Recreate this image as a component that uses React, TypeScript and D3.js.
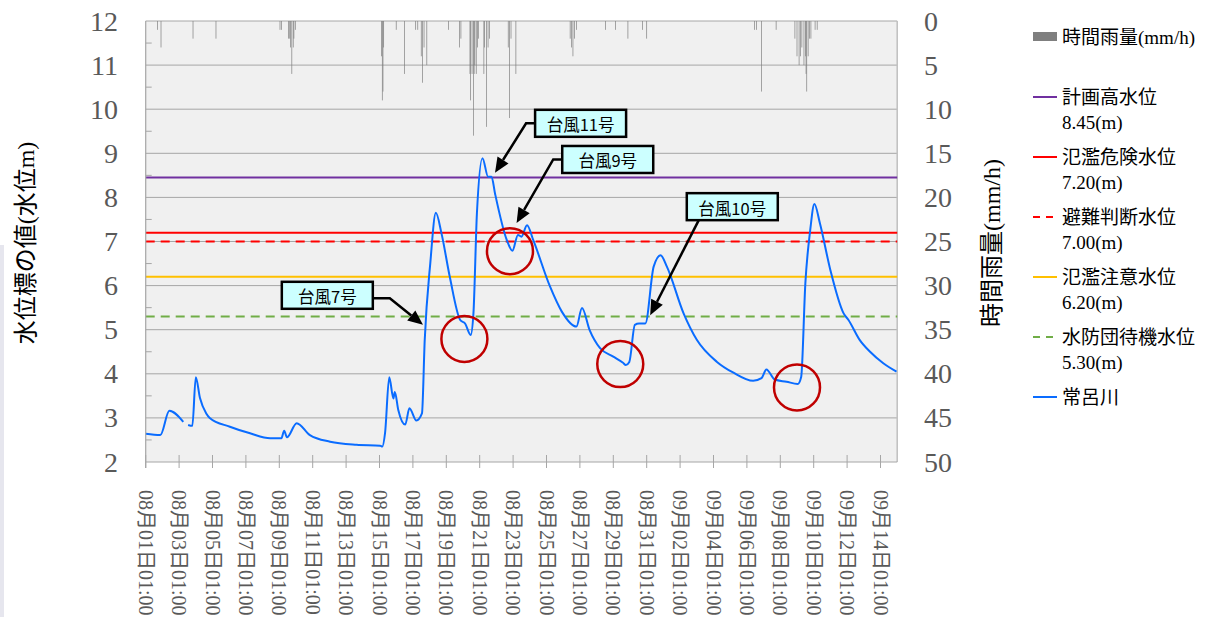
import * as d3 from "d3";

// hourly series start at 2016-08-01 01:00
const startDate = new Date(2016, 7, 1, 1);
const totalHours = 45 * 24;

// hourly rainfall (hour offset, mm/h) - only hours with rain
const rainHours = [
  17, 22, 68, 101, 193, 195, 205, 207, 208, 210, 212, 213, 215, 339, 340, 341,
  342, 360, 372, 388, 391, 396, 398, 400, 404, 435, 451, 453, 466, 467, 469, 471,
  472, 473, 475, 477, 478, 486, 487, 490, 492, 494, 521, 523, 525, 532, 610, 612,
  614, 616, 619, 661, 675, 693, 714, 720, 875, 878, 885, 906, 933, 936, 939, 941,
  943, 946, 948, 949, 950, 952, 954, 956, 962, 965,
];
const rainMm = [
  1, 3, 2, 2, 1, 1, 2, 2, 3, 6, 3, 2, 1, 4, 9, 8,
  3, 1, 6, 1, 1, 4, 7, 3, 5, 1, 3, 2, 6, 9, 6, 13,
  6, 5, 6, 3, 2, 6, 3, 12, 3, 2, 3, 11, 2, 6, 2, 3,
  4, 2, 1, 1, 1, 2, 1, 2, 1, 1, 8, 1, 2, 4, 5, 4,
  3, 5, 4, 6, 8, 4, 2, 2, 1, 1,
];

// 常呂川 water level (hour offset, m); null = missing
const levelSeries: [number, number | null][] = [
  [0, 2.64], [21, 2.61], [34, 3.16], [54, 2.91], [57, null], [61, 2.84],
  [67, 2.82], [72, 3.92], [78, 3.45], [87, 3.1], [92, 3.0], [121, 2.8],
  [150, 2.65], [179, 2.54], [195, 2.54], [199, 2.71], [203, 2.56], [217, 2.88],
  [236, 2.61], [265, 2.46], [303, 2.39], [337, 2.37], [340, 2.35], [344, 2.66],
  [350, 3.92], [356, 3.44], [358, 3.59], [363, 3.18], [373, 2.85], [379, 3.22],
  [389, 2.94], [397, 3.1], [401, 4.77], [409, 6.51], [417, 7.65], [425, 7.19],
  [437, 6.2], [452, 5.22], [459, 5.14], [467, 4.88], [471, 5.37], [476, 7.64],
  [484, 8.89], [492, 8.47], [497, 8.47], [502, 8.09], [519, 7.03], [527, 6.79],
  [535, 7.15], [540, 7.11], [548, 7.37], [557, 7.03], [581, 5.98], [598, 5.41],
  [619, 5.07], [627, 5.49], [638, 4.99], [653, 4.58], [672, 4.39], [686, 4.25],
  [690, 4.2], [695, 4.27], [703, 5.11], [709, 5.14], [718, 5.14], [730, 6.43],
  [740, 6.69], [749, 6.43], [773, 5.37], [792, 4.77], [821, 4.27], [844, 4.03],
  [873, 3.84], [885, 3.9], [892, 4.1], [904, 3.87], [921, 3.82], [937, 3.77],
  [942, 3.93], [948, 6.05], [955, 7.26], [961, 7.85], [969, 7.41], [984, 6.35],
  [1003, 5.37], [1010, 5.22], [1026, 4.77], [1041, 4.5], [1060, 4.24], [1079, 4.05],
];

const thresholdNames = ["計画高水位", "氾濫危険水位", "避難判断水位", "氾濫注意水位", "水防団待機水位"];
const thresholdValues = [8.45, 7.2, 7.0, 6.2, 5.3];
const thresholdColors = ["#7030A0", "#FF0000", "#FF0000", "#FFC000", "#70AD47"];
const thresholdDashed = [false, false, true, false, true];

const riverName = "常呂川";
const rainName = "時間雨量(mm/h)";

// typhoon callouts: box anchor and arrow tip in (hour, level)
const typhoonLabels = ["台風7号", "台風11号", "台風9号", "台風10号"];
const typhoonBoxHour = [261, 625, 664, 843];
const typhoonBoxLevel = [5.78, 9.68, 8.86, 7.79];
const typhoonTipHour = [398.5, 502, 533, 725];
const typhoonTipLevel = [5.11, 8.56, 7.42, 5.33];
const typhoonSide = ["right", "left", "left", "bottom"];

// red circles marking the troughs
const circleHours = [458, 523.5, 682, 936];
const circleLevels = [4.79, 6.78, 4.22, 3.69];

const SERIF = "Liberation Serif, Noto Sans CJK JP, serif";
const SANS = "Noto Sans CJK JP, Noto Sans, sans-serif";

export default function App() {
  const L = 145.7, R = 897.2, T = 21, B = 462;
  const hourDate = (h: number) => new Date(startDate.getTime() + h * 3600e3);
  const x = d3
    .scaleTime()
    .domain([startDate, hourDate(totalHours)])
    .range([L, R]);
  const hx = (h: number) => x(hourDate(h));
  const y = d3.scaleLinear().domain([2, 12]).range([B, T]);
  const yRain = d3.scaleLinear().domain([0, 50]).range([T, B]);
  const hourW = (R - L) / totalHours;

  const xTicks = d3.range(0, 45, 2).map((d) => d3.timeDay.offset(startDate, d));
  const fmt = d3.timeFormat("%m月%d日%H:%M");

  const line = d3
    .line<[number, number | null]>()
    .defined((d) => d[1] !== null)
    .x((d) => hx(d[0]))
    .y((d) => y(d[1] as number))
    .curve(d3.curveMonotoneX);

  const boxW = 91, boxH = 27;

  return (
    <svg
      width={1210}
      height={641}
      style={{ position: "absolute", left: 0, top: 0, background: "#fff" }}
    >
      <rect x={0} y={245} width={4} height={372} fill="#e6e6ee" />
      <rect x={L} y={T} width={R - L} height={B - T} fill="#F0F0F0" />

      {/* gridlines */}
      {d3.range(3, 13).map((v) => (
        <line key={v} x1={L} x2={R} y1={y(v)} y2={y(v)} stroke="#A6A6A6" strokeWidth={1} />
      ))}
      {d3.range(2.5, 12, 1).map((v) => (
        <line key={v} x1={L} x2={L + 6} y1={y(v)} y2={y(v)} stroke="#A6A6A6" strokeWidth={1} />
      ))}
      <line x1={R} x2={R} y1={T} y2={B} stroke="#BFBFBF" strokeWidth={1.5} />

      {/* rain bars */}
      {rainHours.map((h, i) => (
        <rect
          key={i}
          x={hx(h) - hourW / 2}
          y={yRain(0)}
          width={hourW}
          height={yRain(rainMm[i]) - yRain(0)}
          fill="#7F7F7F"
        />
      ))}

      {/* threshold lines */}
      {thresholdValues.map((v, i) => (
        <line
          key={i}
          x1={L}
          x2={R}
          y1={y(v)}
          y2={y(v)}
          stroke={thresholdColors[i]}
          strokeWidth={2}
          strokeDasharray={thresholdDashed[i] ? "9 6" : undefined}
        />
      ))}

      {/* water level */}
      <path d={line(levelSeries) ?? ""} fill="none" stroke="#0A6CFF" strokeWidth={2} />

      {/* axes */}
      <line x1={L} x2={L} y1={T} y2={B + 6} stroke="#A6A6A6" strokeWidth={1.2} />
      <line x1={L} x2={R} y1={B} y2={B} stroke="#A6A6A6" strokeWidth={1.2} />
      {xTicks.map((d, i) => (
        <g key={i}>
          <line x1={x(d)} x2={x(d)} y1={B - 7} y2={B + 6} stroke="#A6A6A6" strokeWidth={1} />
          <text
            transform={`translate(${x(d)},490) rotate(90)`}
            fontSize={20}
            fontFamily={SERIF}
            fill="#595959"
            dominantBaseline="central"
          >
            {fmt(d)}
          </text>
        </g>
      ))}
      {y.ticks(10).map((v) => (
        <text
          key={v}
          x={118}
          y={y(v)}
          fontSize={28}
          fontFamily={SERIF}
          fill="#595959"
          textAnchor="end"
          dominantBaseline="central"
        >
          {v}
        </text>
      ))}
      {d3.range(0, 51, 5).map((v) => (
        <text
          key={v}
          x={924}
          y={yRain(v)}
          fontSize={28}
          fontFamily={SERIF}
          fill="#595959"
          dominantBaseline="central"
        >
          {v}
        </text>
      ))}
      <text
        transform="translate(26,243) rotate(-90)"
        fontSize={24}
        fontFamily={SERIF}
        textAnchor="middle"
        dominantBaseline="central"
        fill="#000"
      >
        水位標の値(水位m)
      </text>
      <text
        transform="translate(992,243) rotate(-90)"
        fontSize={24}
        fontFamily={SERIF}
        textAnchor="middle"
        dominantBaseline="central"
        fill="#000"
      >
        {rainName}
      </text>

      {/* circles */}
      {circleHours.map((h, i) => (
        <circle
          key={i}
          cx={hx(h)}
          cy={y(circleLevels[i])}
          r={23}
          fill="none"
          stroke="#C00000"
          strokeWidth={2.5}
        />
      ))}

      {/* typhoon callouts */}
      {typhoonLabels.map((label, i) => {
        const cx = hx(typhoonBoxHour[i]);
        const cy = y(typhoonBoxLevel[i]);
        const tx = hx(typhoonTipHour[i]);
        const ty = y(typhoonTipLevel[i]);
        const side = typhoonSide[i];
        let pts: [number, number][];
        if (side === "right") {
          const sx = cx + boxW / 2;
          pts = [[sx, cy + 3], [sx + 17, cy + 3]];
        } else if (side === "left") {
          const sx = cx - boxW / 2;
          pts = [[sx, cy], [sx - 9, cy]];
        } else {
          pts = [[cx - boxW / 2 + 12, cy + boxH / 2]];
        }
        const [ex, ey] = pts[pts.length - 1];
        const ang = Math.atan2(ty - ey, tx - ex);
        const hl = 15, hw = 6.5;
        const bx = tx - hl * Math.cos(ang);
        const by = ty - hl * Math.sin(ang);
        const px = -Math.sin(ang), py = Math.cos(ang);
        const path = d3.line()([...pts, [bx, by]]) ?? "";
        return (
          <g key={i}>
            <path d={path} fill="none" stroke="#000" strokeWidth={2.5} />
            <polygon
              points={`${tx},${ty} ${bx + px * hw},${by + py * hw} ${bx - px * hw},${by - py * hw}`}
              fill="#000"
            />
            <rect
              x={cx - boxW / 2}
              y={cy - boxH / 2}
              width={boxW}
              height={boxH}
              fill="#CCFFFF"
              stroke="#000"
              strokeWidth={2.5}
            />
            <text
              x={cx}
              y={cy + 1}
              fontSize={16.5}
              fontFamily={SANS}
              textAnchor="middle"
              dominantBaseline="central"
              fill="#000"
            >
              {label}
            </text>
          </g>
        );
      })}

      {/* legend */}
      <g fontFamily={SERIF} fontSize={19} fill="#000">
        <rect x={1033} y={32} width={24} height={9} fill="#7F7F7F" />
        <text x={1062} y={37} dominantBaseline="central">
          {rainName}
        </text>
        {thresholdNames.map((name, i) => (
          <g key={i} transform={`translate(0,${97 + i * 60})`}>
            <line
              x1={1033}
              x2={1057}
              y1={0}
              y2={0}
              stroke={thresholdColors[i]}
              strokeWidth={2}
              strokeDasharray={thresholdDashed[i] ? "7 6" : undefined}
            />
            <text x={1062} y={0} dominantBaseline="central">
              {name}
            </text>
            <text x={1062} y={25} dominantBaseline="central">
              {thresholdValues[i].toFixed(2)}(m)
            </text>
          </g>
        ))}
        <line x1={1033} x2={1057} y1={397} y2={397} stroke="#0A6CFF" strokeWidth={2} />
        <text x={1062} y={397} dominantBaseline="central">
          {riverName}
        </text>
      </g>
    </svg>
  );
}
